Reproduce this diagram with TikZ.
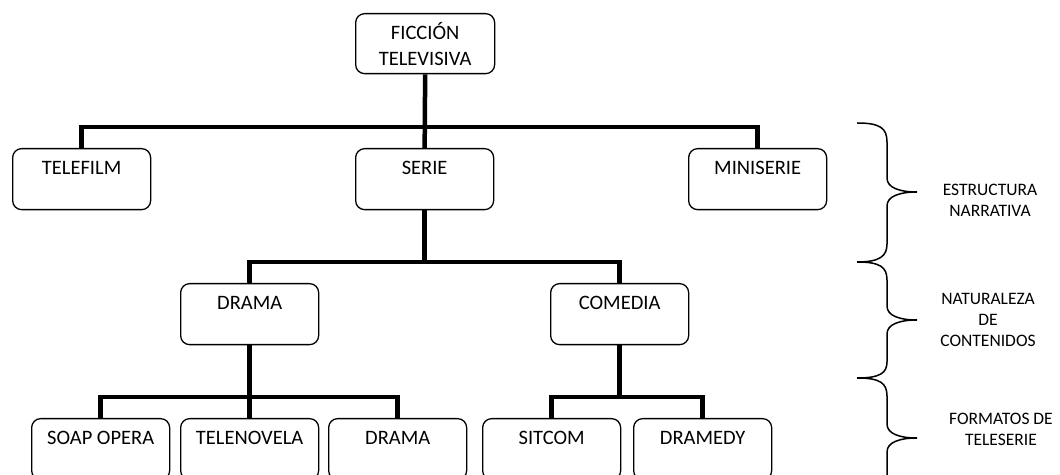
\documentclass[tikz,border=0pt]{standalone}
\usepackage{fontspec}
\setmainfont{Carlito}
\begin{document}
\begin{tikzpicture}[x=1bp,y=-1bp,
  box/.style={draw, line width=1.3bp, rounded corners=9bp, minimum width=138bp,
    inner xsep=0pt, inner ysep=0pt, text height=25.5bp, text depth=35.5bp,
    anchor=north west, font=\fontsize{20.5bp}{25bp}\selectfont},
  conn/.style={line width=4.5bp, line join=miter},
  brace/.style={line width=1.5bp},
  side/.style={align=center, font=\fontsize{17.5bp}{21bp}\selectfont, inner sep=0pt}]
\useasboundingbox (0,0) rectangle (1060,475);
\clip (0,0) rectangle (1060,475);
% boxes
\node[draw, line width=1.3bp, rounded corners=9bp, minimum width=139bp, minimum height=60bp,
  anchor=north west, align=center, inner sep=0pt,
  font=\fontsize{20.5bp}{26bp}\selectfont] (top) at (355,13) {FICCIÓN\\TELEVISIVA};
\node[box] (telefilm) at (12,148) {TELEFILM};
\node[box] (serie) at (355,148) {SERIE};
\node[box] (miniserie) at (688,148) {MINISERIE};
\node[box] (drama) at (180,283) {DRAMA};
\node[box] (comedia) at (550,283) {COMEDIA};
\node[box] (soap) at (31,418) {SOAP OPERA};
\node[box] (telenovela) at (180,418) {TELENOVELA};
\node[box] (drama2) at (328,418) {DRAMA};
\node[box] (sitcom) at (482,418) {SITCOM};
\node[box] (dramedy) at (633,418) {DRAMEDY};
% junctions
\coordinate (j1) at (425,127);
\coordinate (j2) at (425,262);
\coordinate (j3) at (249,397);
\coordinate (j4) at (619,397);
% connectors
\draw[conn] (top.south) -- (serie.north);
\draw[conn] (telefilm.north) -- (telefilm.north |- j1) -- (miniserie.north |- j1) -- (miniserie.north);
\draw[conn] (serie.south) -- (serie.south |- j2);
\draw[conn] (drama.north) -- (drama.north |- j2) -- (comedia.north |- j2) -- (comedia.north);
\draw[conn] (drama.south) -- (telenovela.north);
\draw[conn] (soap.north) -- (soap.north |- j3) -- (drama2.north |- j3) -- (drama2.north);
\draw[conn] (comedia.south) -- (comedia.south |- j4);
\draw[conn] (sitcom.north) -- (sitcom.north |- j4) -- (dramedy.north |- j4) -- (dramedy.north);
% braces
\draw[brace] (857,123) .. controls (880,123) and (887,128) .. (887,142) -- (887,178)
  .. controls (887,188) and (900,192) .. (917,192)
  .. controls (900,192) and (887,196) .. (887,206) -- (887,244)
  .. controls (887,256) and (880,262) .. (857,262);
\draw[brace] (857,262) .. controls (880,262) and (887,267) .. (887,280) -- (887,306)
  .. controls (887,316) and (900,320) .. (917,320)
  .. controls (900,320) and (887,324) .. (887,334) -- (887,362)
  .. controls (887,373) and (880,378) .. (857,378);
\draw[brace] (857,378) .. controls (880,378) and (887,383) .. (887,396) -- (887,424)
  .. controls (887,434) and (900,438) .. (917,438)
  .. controls (900,438) and (887,442) .. (887,452) -- (887,490);
% side labels
\node[side] (lab1) at (990,200) {ESTRUCTURA\\NARRATIVA};
\node[side] (lab2) at (988,320) {NATURALEZA\\DE\\CONTENIDOS};
\node[side] (lab3) at (1001,429) {FORMATOS DE\\TELESERIE};
\end{tikzpicture}
\end{document}
